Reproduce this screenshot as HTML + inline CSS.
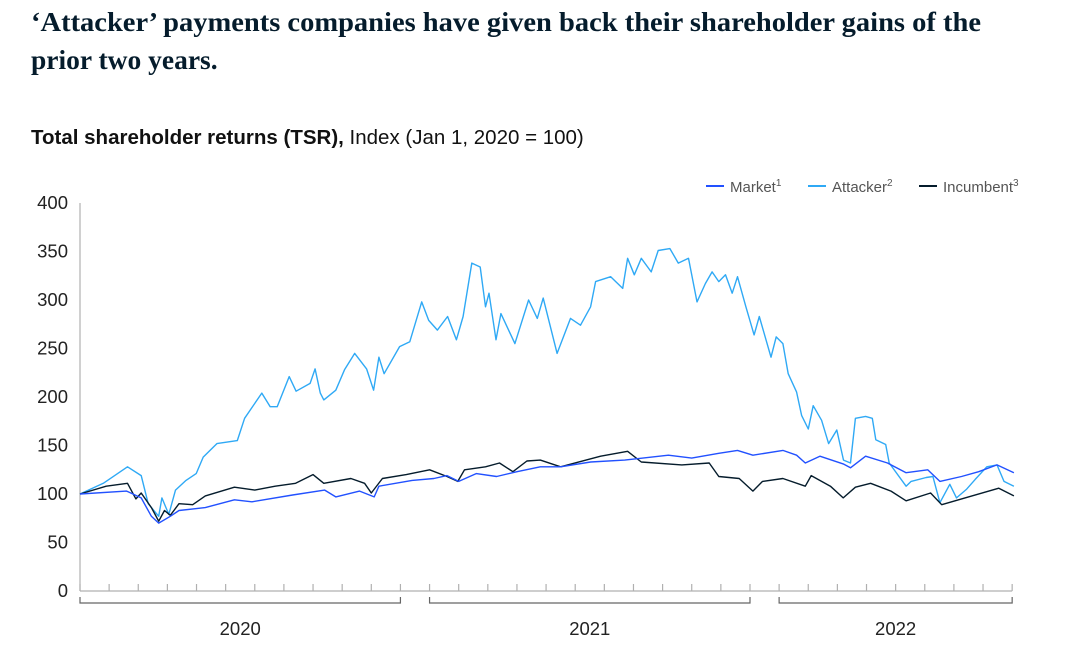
<!DOCTYPE html>
<html><head><meta charset="utf-8"><style>
html,body{margin:0;padding:0;background:#fff;width:1069px;height:653px;overflow:hidden}
svg{display:block}
.t{font-family:"Liberation Serif",serif;font-weight:bold;font-size:27.5px;fill:#051c2c}
.s{font-family:"Liberation Sans",sans-serif;font-size:20.5px;fill:#111}
.ax{font-family:"Liberation Sans",sans-serif;font-size:18.5px;fill:#222}
.lg{font-family:"Liberation Sans",sans-serif;font-size:15px;fill:#555}
</style></head><body>
<svg id="chart" width="1069" height="653">
<text class="t" x="31" y="31" textLength="950" lengthAdjust="spacingAndGlyphs">‘Attacker’ payments companies have given back their shareholder gains of the</text>
<text class="t" x="31" y="69">prior two years.</text>
<text class="s" x="31" y="144"><tspan font-weight="bold">Total shareholder returns (TSR),</tspan> Index (Jan 1, 2020 = 100)</text>
<g id="legend"></g>
<g id="axes"></g>
<g id="series"></g>
</svg>
<script>
const yTicks=[0,50,100,150,200,250,300,350,400];
const years=["2020","2021","2022"];
const yearStart=[0,12,24];
const yearEnd=[11,23,32];
const marketM=[0,1.6,2.1,2.45,2.7,3.1,3.4,4.3,5.3,5.9,7.3,8.4,8.78,9.6,10.1,10.26,11.4,12.15,12.6,13.0,13.6,14.3,15,15.8,16.5,17.53,18.7,20.2,21,21.93,22.57,23.1,24.13,24.6,24.9,25.4,26.2,26.45,26.97,27.72,28.36,29.1,29.52,30.26,30.85,31.48,32.06];
const marketV=[100,103,96,77,70,77,83,86,94,92,99,104,97,103,97,108,114,116,119,113,121,118,123,128,128,133,135,140,137,142,145,140,145,140,132,139,131,127,139,132,122,125,113,118,123,130,122];
const attackerM=[0,0.8,1.63,2.1,2.34,2.7,2.81,3.05,3.28,3.64,3.99,4.23,4.7,5.4,5.65,6.24,6.53,6.77,7.18,7.42,7.9,8.07,8.25,8.37,8.78,9.08,9.43,9.84,10.08,10.26,10.44,10.97,11.32,11.73,11.97,12.27,12.62,12.92,13.15,13.45,13.74,13.92,14.04,14.28,14.45,14.93,15.4,15.7,15.9,16.38,16.84,17.18,17.53,17.7,18.22,18.63,18.8,19.03,19.27,19.61,19.85,20.25,20.54,20.89,21.18,21.47,21.7,21.93,22.16,22.39,22.57,22.86,23.14,23.32,23.72,23.9,24.13,24.31,24.6,24.77,25,25.17,25.46,25.7,25.98,26.21,26.45,26.62,26.97,27.2,27.32,27.66,27.78,28.36,28.53,29.05,29.28,29.52,29.86,30.09,30.44,30.73,31.13,31.48,31.72,32.06];
const attackerV=[100,111,128,119,90,77,96,79,104,114,121,138,152,155,178,204,190,190,221,206,214,229,204,197,207,228,245,229,207,241,224,252,257,298,279,269,283,259,283,338,334,293,307,259,286,255,300,281,302,245,281,274,293,319,324,312,343,326,343,329,351,353,338,343,298,317,329,319,326,307,324,293,264,283,241,262,255,224,205,181,167,191,176,152,166,135,132,178,180,178,156,151,132,108,113,117,118,91,110,96,105,115,128,130,113,108];
const incumbentM=[0,0.9,1.63,1.92,2.1,2.45,2.7,2.9,3.1,3.4,3.87,4.3,5.3,6,6.7,7.4,8.0,8.37,9.3,9.77,10.0,10.38,11.2,12.0,12.6,12.97,13.2,13.92,14.4,14.86,15.34,15.8,16.5,17.87,18.8,19.27,20.66,21.6,21.93,22.63,23.1,23.43,24.13,24.9,25.1,25.76,26.2,26.62,27.14,27.84,28.36,29.2,29.58,30.38,31.54,32.06];
const incumbentV=[100,108,111,95,101,86,72,83,78,90,89,98,107,104,108,111,120,111,116,111,101,116,120,125,118,113,125,128,132,123,134,135,128,139,144,133,130,132,118,116,103,113,116,108,119,108,96,107,111,103,93,101,89,96,106,98];
const NS="http://www.w3.org/2000/svg";
const X0=80,MW=29.13,Y0=591,YS=0.97;
const xS=m=>X0+m*MW, yS=v=>Y0-v*YS;
function mk(tag,at,parent){const e=document.createElementNS(NS,tag);for(const k in at)e.setAttribute(k,at[k]);parent.appendChild(e);return e;}
const axes=document.getElementById('axes');
let e=mk('line',{x1:X0,x2:X0,y1:yS(400),y2:Y0,stroke:'#b0b0b0','stroke-width':1.2},axes);


e=mk('line',{x1:X0,x2:xS(32),y1:Y0,y2:Y0,stroke:'#b0b0b0','stroke-width':1.2},axes);


yTicks.forEach(v=>{const t=mk('text',{x:68,y:yS(v)+6,'text-anchor':'end',class:'ax'},axes);t.textContent=v;

});
for(let i=0;i<=32;i++){const t=mk('line',{x1:xS(i),x2:xS(i),y1:Y0-7,y2:Y0,stroke:'#b0b0b0','stroke-width':1.2},axes);

}
years.forEach((y,i)=>{const a=xS(yearStart[i]),b=xS(yearEnd[i]);
const p=mk('path',{d:`M${a},597V603H${b}V597`,fill:'none',stroke:'#666','stroke-width':1.2},axes);


const t=mk('text',{x:(a+b)/2,y:635,'text-anchor':'middle',class:'ax'},axes);t.textContent=y;

});
const ser=document.getElementById('series');
function line(M,V,c,name){const d=M.map((m,i)=>(i?'L':'M')+xS(m).toFixed(1)+','+yS(V[i]).toFixed(1)).join('');
const p=mk('path',{d,fill:'none',stroke:c,'stroke-width':1.4,'stroke-linejoin':'round'},ser);

}
line(attackerM,attackerV,'#2fa9f5','attacker-line');
line(incumbentM,incumbentV,'#051c2c','incumbent-line');
line(marketM,marketV,'#2251ff','market-line');
const lg=document.getElementById('legend');
[['Market','1','#2251ff',706],['Attacker','2','#2fa9f5',808],['Incumbent','3','#051c2c',919]].forEach(([n,s,c,x])=>{
const l=mk('line',{x1:x,x2:x+18,y1:186,y2:186,stroke:c,'stroke-width':2},lg);


const t=mk('text',{x:x+24,y:192,class:'lg'},lg);t.textContent=n;
const sp=mk('tspan',{'font-size':'10','dy':'-6'},t);sp.textContent=s;

});
</script>
</body></html>
